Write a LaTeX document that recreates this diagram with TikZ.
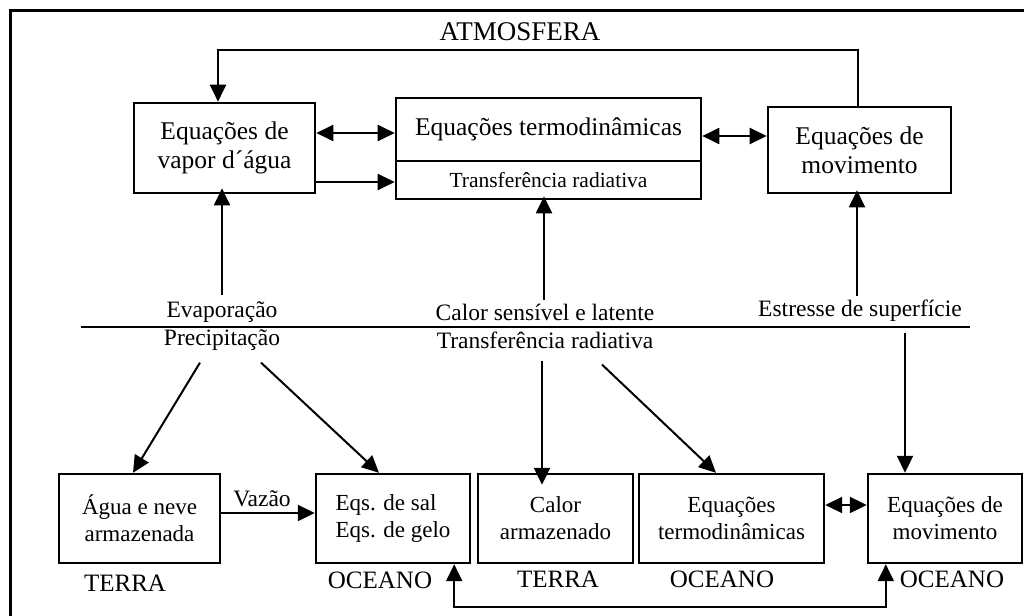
\documentclass[tikz,border=0pt]{standalone}
\usepackage{fontspec}
\setmainfont{Liberation Serif}
\usetikzlibrary{arrows.meta,positioning,calc}

\begin{document}
\begin{tikzpicture}[x=1pt,y=-1pt,
    box/.style={draw,line width=2.6pt,inner sep=0pt,align=center,font=\fontsize{25.5}{29}\selectfont},
    lbox/.style={draw,line width=2.4pt,inner sep=0pt,align=center,minimum height=89pt,font=\fontsize{23}{27}\selectfont},
    lbl/.style={inner sep=0pt,font=\fontsize{23.5}{27}\selectfont},
    arr/.style={line width=2pt,-{Triangle[length=17pt,width=16pt]}},
    darr/.style={line width=2pt,{Triangle[length=17pt,width=16pt]}-{Triangle[length=17pt,width=16pt]}}]
    \useasboundingbox (0,0) rectangle (1024,615);
    \draw[line width=3pt] (10,620) -- (10,11) -- (1030,11);

    % Atmosfera
    \node[lbl,font=\fontsize{27}{30}\selectfont] (atmo) at (520,32) {ATMOSFERA};
    \node[box,minimum width=181pt,minimum height=90pt] (vapor) at (224.5,148) {Equações de\\vapor d´água};
    \node[box,minimum width=305pt,minimum height=63pt] (termoA) at (548.5,129.5) {\raisebox{5pt}{Equações termodinâmicas}};
    \node[box,minimum width=305pt,minimum height=38pt,font=\fontsize{21.5}{25}\selectfont] (radA) at (548.5,180) {Transferência radiativa};
    \node[box,minimum width=183pt,minimum height=86pt] (movA) at (859.5,150) {Equações de\\movimento};

    \coordinate (loop) at (0,50);
    \draw[arr] ([xshift=-1.5pt]movA.north) -- ([xshift=-1.5pt]movA.north |- loop)
        -- ([xshift=-6.5pt]vapor.north |- loop) -- ([xshift=-6.5pt]vapor.north);
    \draw[darr] ([yshift=-3.5pt]termoA.west -| vapor.east) -- ([yshift=-3.5pt]termoA.west);
    \draw[arr] ([yshift=-2pt]radA.west -| vapor.east) -- ([yshift=-2pt]radA.west);
    \draw[darr] ([yshift=-6.5pt]termoA.east) -- ([yshift=-6.5pt]termoA.east -| movA.west);

    % Superficie
    \node[lbl] (evap) at (222,312) {Evaporação};
    \node[lbl] (precip) at (222,340) {Precipitação};
    \node[lbl] (calorlbl) at (545,312) {Calor sensível e latente};
    \node[lbl] (transflbl) at (545,340) {Transferência radiativa};
    \node[lbl] (estresse) at (860,311) {Estresse de superfície};
    \coordinate (sepL) at (81,327);
    \coordinate (sepR) at (970,327);
    \draw[line width=2pt] (sepL) -- (sepR);

    \draw[arr] ([yshift=6pt]evap.north) -- ([yshift=6pt]evap.north |- vapor.south);
    \draw[arr] ([shift={(-1pt,4pt)}]calorlbl.north) -- ([shift={(-1pt,4pt)}]calorlbl.north |- radA.south);
    \draw[arr] ([shift={(-3pt,4pt)}]estresse.north) -- ([shift={(-3pt,4pt)}]estresse.north |- movA.south);

    % Terra / Oceano
    \node[lbox,minimum width=161pt] (agua) at (139.5,518.5) {Água e neve\\armazenada};
    \node[lbox,minimum width=154pt,align=left] (sal) at (393,518.5) {Eqs. de sal\\Eqs. de gelo};
    \node[lbox,minimum width=155pt] (calor) at (555.5,518.5) {Calor\\armazenado};
    \node[lbox,minimum width=185pt] (termoB) at (731.5,518.5) {Equações\\termodinâmicas};
    \node[lbox,minimum width=154pt] (movB) at (945,518.5) {Equações de\\movimento};

    \draw[arr] ([xshift=-22pt,yshift=-12pt]precip.south) -- ([xshift=-6.5pt]agua.north);
    \draw[arr] ([xshift=39pt,yshift=-12pt]precip.south) -- ([xshift=-14pt]sal.north);
    \draw[arr] ([xshift=-3pt,yshift=-12pt]transflbl.south) -- ([xshift=-3pt,yshift=-12pt]transflbl.south |- calor.north);
    \draw[arr] ([xshift=57pt,yshift=-16pt]transflbl.south) -- ([xshift=-15.5pt]termoB.north);
    \coordinate (tau) at (905,333);
    \draw[arr] (tau) -- (tau |- movB.north);

    \draw[arr] ([yshift=5.5pt]agua.east) -- node[lbl,above=5pt,xshift=-6pt] (vazao) {Vazão} ([yshift=5.5pt]agua.east -| sal.west);
    \draw[darr] ([yshift=13.5pt]termoB.east) -- ([yshift=13.5pt]termoB.east -| movB.west);
    \coordinate (base) at (0,607);
    \draw[darr] ([xshift=-17pt]sal.south east) -- ([xshift=-17pt]sal.south east |- base)
        -- ([xshift=19pt]movB.south west |- base) -- ([xshift=19pt]movB.south west);

    \node[lbl,font=\fontsize{25}{28}\selectfont] (terra1) at (125,583) {TERRA};
    \node[lbl,font=\fontsize{25}{28}\selectfont] (oceano1) at (380,580) {OCEANO};
    \node[lbl,font=\fontsize{25}{28}\selectfont] (terra2) at (558,579) {TERRA};
    \node[lbl,font=\fontsize{25}{28}\selectfont] (oceano2) at (722,579) {OCEANO};
    \node[lbl,font=\fontsize{25}{28}\selectfont] (oceano3) at (952,579) {OCEANO};
\end{tikzpicture}
\end{document}
